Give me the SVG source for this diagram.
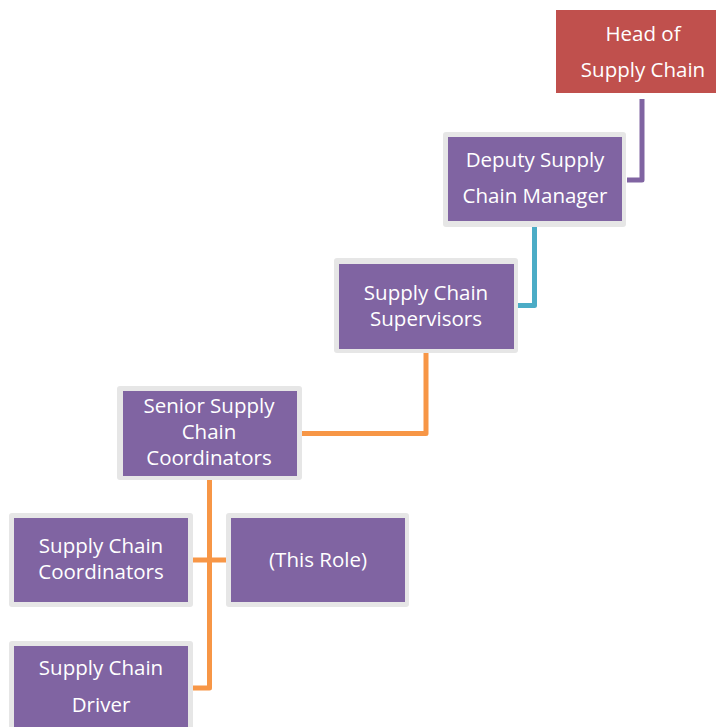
<svg xmlns="http://www.w3.org/2000/svg" width="716" height="727" viewBox="0 0 716 727">
<style>
.frame{fill:#E6E6E6}
.box{fill:#8064A2}
.head{fill:#C0504D}
.t{font-family:"Open Sans","Liberation Sans",sans-serif;font-size:20.5px;fill:#FFFFFF;text-anchor:middle}
.c{fill:none;stroke-width:5;stroke-linejoin:round}
</style>
<rect width="716" height="727" fill="#FFFFFF"/>
<g id="connectors">
<path class="c" stroke="#8064A2" d="M642,99 V180 H627"/>
<path class="c" stroke="#4BACC6" d="M534.5,227 V305.5 H518"/>
<path class="c" stroke="#F79646" d="M426,353 V433.5 H302"/>
<path class="c" stroke="#F79646" d="M209.5,480 V688 H193"/>
<path class="c" stroke="#F79646" d="M193,560 H226"/>
</g>
<g id="head">
<rect class="head" x="556" y="10" width="160" height="83"/>
<text class="t" x="643" y="41">Head of</text>
<text class="t" x="643" y="77">Supply Chain</text>
</g>
<g id="deputy">
<rect class="frame" x="443" y="132" width="183" height="95" rx="3"/>
<rect class="box" x="448" y="137" width="174" height="84"/>
<text class="t" x="535" y="167">Deputy Supply</text>
<text class="t" x="535" y="203">Chain Manager</text>
</g>
<g id="supervisors">
<rect class="frame" x="334" y="258" width="184" height="95" rx="3"/>
<rect class="box" x="339" y="264" width="175" height="85"/>
<text class="t" x="426" y="300">Supply Chain</text>
<text class="t" x="426" y="326">Supervisors</text>
</g>
<g id="senior">
<rect class="frame" x="117" y="386" width="185" height="94" rx="3"/>
<rect class="box" x="123" y="391" width="174" height="85"/>
<text class="t" x="209" y="413">Senior Supply</text>
<text class="t" x="209" y="439">Chain</text>
<text class="t" x="209" y="465">Coordinators</text>
</g>
<g id="coordinators">
<rect class="frame" x="9" y="513" width="184" height="94" rx="3"/>
<rect class="box" x="14" y="518" width="174" height="84"/>
<text class="t" x="101" y="553">Supply Chain</text>
<text class="t" x="101" y="579">Coordinators</text>
</g>
<g id="this-role">
<rect class="frame" x="226" y="513" width="183" height="94" rx="3"/>
<rect class="box" x="231" y="518" width="174" height="84"/>
<text class="t" x="318" y="567">(This Role)</text>
</g>
<g id="driver">
<rect class="frame" x="9" y="641" width="184" height="100" rx="3"/>
<rect class="box" x="14" y="646" width="174" height="90"/>
<text class="t" x="101" y="675">Supply Chain</text>
<text class="t" x="101" y="712">Driver</text>
</g>
</svg>
